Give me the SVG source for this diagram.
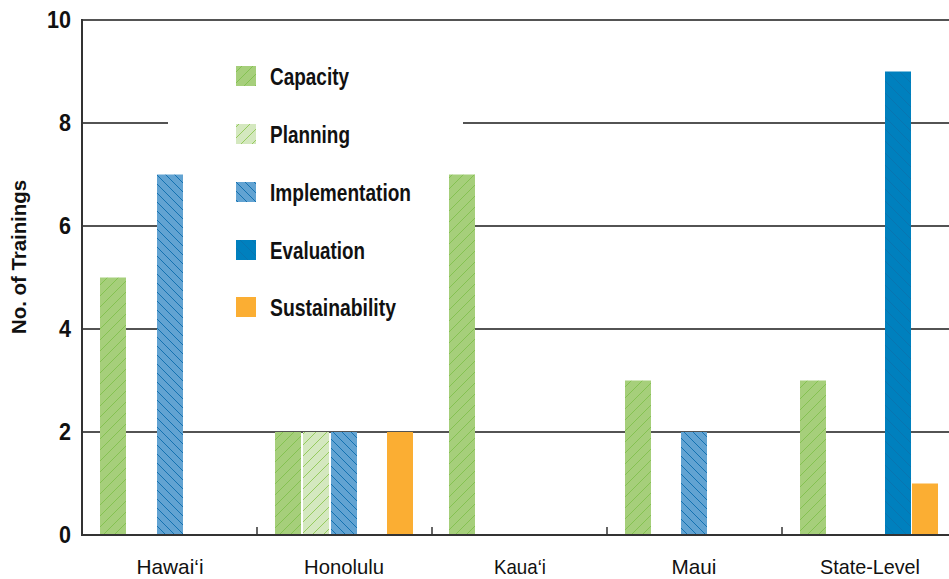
<svg xmlns="http://www.w3.org/2000/svg" width="949" height="579" viewBox="0 0 949 579">
<style>
.grid{stroke:#1a1a1a;stroke-width:1.4;fill:none}
.axis{stroke:#333;stroke-width:2;fill:none}
.tick{stroke:#333;stroke-width:1.5}
.ylab{font-family:"Liberation Sans",Arial,sans-serif;font-weight:bold;font-size:23px;fill:#111;text-anchor:end}
.ytitle{font-family:"Liberation Sans",Arial,sans-serif;font-weight:bold;font-size:21px;fill:#111;text-anchor:middle}
.leg{font-family:"Liberation Sans",Arial,sans-serif;font-weight:bold;font-size:23px;fill:#111}
.cat{font-family:"Liberation Sans",Arial,sans-serif;font-size:21px;fill:#111;text-anchor:middle}
.cap{fill:url(#pCap)}
.pla{fill:url(#pPla)}
.imp{fill:url(#pImp)}
.eva{fill:url(#pEva)}
.sus{fill:#fbae33}
</style>
<defs>
<pattern id="pCap" patternUnits="userSpaceOnUse" width="11" height="11">
<rect width="11" height="11" fill="#a6cf7b"/>
<path d="M-1,12 L12,-1 M-3,3 L3,-3 M8,14 L14,8" stroke="#7cbf47" stroke-width="0.8"/>
</pattern>
<pattern id="pPla" patternUnits="userSpaceOnUse" width="11" height="11">
<rect width="11" height="11" fill="#d4e8bf"/>
<path d="M-1,12 L12,-1 M-3,3 L3,-3 M8,14 L14,8" stroke="#86c445" stroke-width="0.8"/>
</pattern>
<pattern id="pImp" patternUnits="userSpaceOnUse" width="9" height="9">
<rect width="9" height="9" fill="#62a3d2"/>
<path d="M-1,-1 L10,10 M-3,6 L3,12 M6,-3 L12,3" stroke="#0b6cae" stroke-width="0.9"/>
</pattern>
<pattern id="pEva" patternUnits="userSpaceOnUse" width="12" height="12">
<rect width="12" height="12" fill="#0080be"/>
<path d="M-1,-1 L13,13 M-3,9 L3,15 M9,-3 L15,3" stroke="#0a72ad" stroke-width="0.8"/>
</pattern>
</defs>

<g id="gridlines">
<line class="grid" x1="82" y1="20" x2="949" y2="20"/>
<line class="grid" x1="82" y1="123" x2="949" y2="123"/>
<line class="grid" x1="82" y1="226" x2="949" y2="226"/>
<line class="grid" x1="82" y1="329" x2="949" y2="329"/>
<line class="grid" x1="82" y1="432" x2="949" y2="432"/>
</g>
<rect id="legend-bg" x="168" y="40" width="295" height="305" fill="#fff"/>

<g id="y-labels">
<text class="ylab" x="71" y="28" textLength="24" lengthAdjust="spacingAndGlyphs">10</text>
<text class="ylab" x="71" y="131" textLength="12" lengthAdjust="spacingAndGlyphs">8</text>
<text class="ylab" x="71" y="234" textLength="12" lengthAdjust="spacingAndGlyphs">6</text>
<text class="ylab" x="71" y="337" textLength="12" lengthAdjust="spacingAndGlyphs">4</text>
<text class="ylab" x="71" y="440" textLength="12" lengthAdjust="spacingAndGlyphs">2</text>
<text class="ylab" x="71" y="543" textLength="12" lengthAdjust="spacingAndGlyphs">0</text>
<text class="ytitle" transform="translate(26,257) rotate(-90)" textLength="154" lengthAdjust="spacingAndGlyphs">No. of Trainings</text>
</g>

<g id="bars">
<rect class="cap" x="100" y="277.5" width="26" height="257.5"/>
<rect class="imp" x="157" y="174.5" width="26" height="360.5"/>
<rect class="cap" x="275" y="432" width="26" height="103"/>
<rect class="pla" x="303" y="432" width="26" height="103"/>
<rect class="imp" x="331" y="432" width="26" height="103"/>
<rect class="sus" x="387" y="432" width="26" height="103"/>
<rect class="cap" x="449" y="174.5" width="26" height="360.5"/>
<rect class="cap" x="625" y="380.5" width="26" height="154.5"/>
<rect class="imp" x="681" y="432" width="26" height="103"/>
<rect class="cap" x="800" y="380.5" width="26" height="154.5"/>
<rect class="eva" x="885" y="71.5" width="26" height="463.5"/>
<rect class="sus" x="912" y="483.5" width="26" height="51.5"/>
</g>

<g id="axes">
<line class="axis" x1="82" y1="19" x2="82" y2="535"/>
<line class="axis" x1="81" y1="535" x2="949" y2="535"/>
<line class="tick" x1="257" y1="527" x2="257" y2="535"/>
<line class="tick" x1="432" y1="527" x2="432" y2="535"/>
<line class="tick" x1="607" y1="527" x2="607" y2="535"/>
<line class="tick" x1="782" y1="527" x2="782" y2="535"/>
</g>

<g id="legend">
<rect class="cap" x="236" y="66" width="20" height="20"/>
<text class="leg" x="270" y="85" textLength="79" lengthAdjust="spacingAndGlyphs">Capacity</text>
<rect class="pla" x="236" y="124" width="20" height="20"/>
<text class="leg" x="270" y="143" textLength="80" lengthAdjust="spacingAndGlyphs">Planning</text>
<rect class="imp" x="236" y="182" width="20" height="20"/>
<text class="leg" x="270" y="201" textLength="141" lengthAdjust="spacingAndGlyphs">Implementation</text>
<rect class="eva" x="236" y="240" width="20" height="20"/>
<text class="leg" x="270" y="259" textLength="95" lengthAdjust="spacingAndGlyphs">Evaluation</text>
<rect class="sus" x="236" y="297" width="20" height="20"/>
<text class="leg" x="270" y="316" textLength="126" lengthAdjust="spacingAndGlyphs">Sustainability</text>
</g>

<g id="categories">
<text class="cat" x="170" y="574" textLength="67" lengthAdjust="spacingAndGlyphs">Hawai‘i</text>
<text class="cat" x="344" y="574" textLength="80" lengthAdjust="spacingAndGlyphs">Honolulu</text>
<text class="cat" x="520" y="574" textLength="52" lengthAdjust="spacingAndGlyphs">Kaua‘i</text>
<text class="cat" x="694" y="574" textLength="45" lengthAdjust="spacingAndGlyphs">Maui</text>
<text class="cat" x="870" y="574" textLength="100" lengthAdjust="spacingAndGlyphs">State-Level</text>
</g>
</svg>
